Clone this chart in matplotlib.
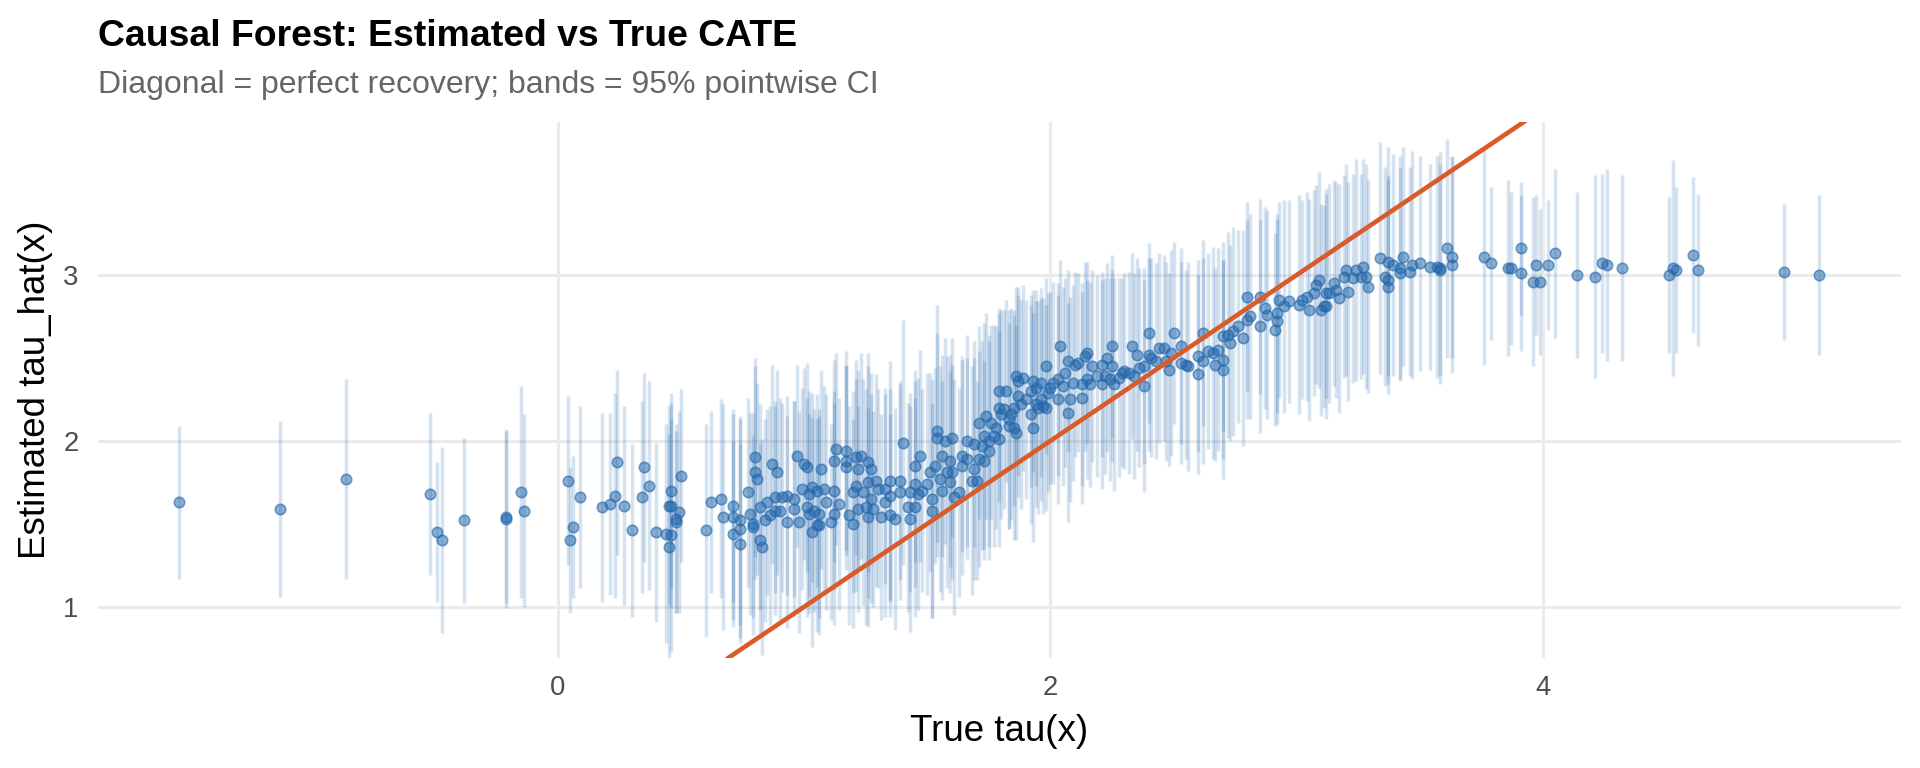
import matplotlib
matplotlib.use("Agg")
import matplotlib.pyplot as plt
import numpy as np

plt.rcParams["font.family"] = ["Liberation Sans", "DejaVu Sans"]

# --- data, split by region of true tau(x) ---

# left tail (tau < 0.1)
true_a = [-1.54, -1.13, -0.86, -0.52, -0.49, -0.47, -0.38, -0.21, -0.21, -0.15,
          -0.14, 0.04, 0.05, 0.06, 0.09]
est_a = [1.63, 1.59, 1.77, 1.68, 1.45, 1.40, 1.52, 1.53, 1.54, 1.69,
         1.58, 1.76, 1.40, 1.48, 1.66]
ci_a = [0.46, 0.53, 0.60, 0.49, 0.42, 0.56, 0.50, 0.54, 0.52, 0.64,
        0.58, 0.51, 0.44, 0.43, 0.55]

# low region (0.1 - 1.22)
true_b = [0.18, 0.21, 0.23, 0.24, 0.27, 0.30, 0.34, 0.35, 0.37, 0.40,
          0.44, 0.45, 0.46, 0.46, 0.46, 0.45, 0.48, 0.49, 0.48, 0.50,
          0.60, 0.62, 0.66, 0.67, 0.71, 0.71, 0.71, 0.74, 0.74, 0.74,
          0.77, 0.78, 0.79, 0.79, 0.80, 0.80, 0.81, 0.82, 0.82, 0.83,
          0.84, 0.85, 0.86, 0.87, 0.88, 0.88, 0.89, 0.90, 0.91, 0.93,
          0.93, 0.96, 0.96, 0.97, 0.98, 0.99, 1.00, 1.01, 1.01, 1.02,
          1.02, 1.03, 1.03, 1.04, 1.05, 1.05, 1.06, 1.06, 1.07, 1.08,
          1.09, 1.11, 1.12, 1.12, 1.12, 1.13, 1.14, 1.17, 1.17, 1.17,
          1.18, 1.20, 1.20, 1.21, 1.21, 1.22, 1.22]
est_b = [1.60, 1.62, 1.67, 1.87, 1.61, 1.46, 1.66, 1.84, 1.73, 1.45,
         1.44, 1.61, 1.43, 1.70, 1.61, 1.36, 1.53, 1.57, 1.51, 1.79,
         1.46, 1.63, 1.65, 1.54, 1.61, 1.54, 1.44, 1.47, 1.38, 1.52,
         1.69, 1.56, 1.50, 1.48, 1.90, 1.81, 1.77, 1.60, 1.40, 1.36,
         1.52, 1.63, 1.55, 1.86, 1.58, 1.66, 1.81, 1.58, 1.66, 1.51,
         1.67, 1.59, 1.65, 1.91, 1.51, 1.71, 1.86, 1.84, 1.60, 1.56,
         1.68, 1.72, 1.45, 1.58, 1.49, 1.70, 1.56, 1.49, 1.83, 1.71,
         1.63, 1.51, 1.88, 1.56, 1.70, 1.95, 1.62, 1.84, 1.88, 1.94,
         1.55, 1.50, 1.69, 1.90, 1.73, 1.59, 1.83]
ci_b = [0.57, 0.55, 0.62, 0.56, 0.60, 0.52, 0.58, 0.57, 0.63, 0.54,
        0.66, 0.60, 0.70, 0.59, 0.62, 0.68, 0.57, 0.61, 0.55, 0.52,
        0.64, 0.55, 0.60, 0.68, 0.58, 0.62, 0.56, 0.66, 0.60, 0.63,
        0.57, 0.61, 0.67, 0.55, 0.60, 0.64, 0.58, 0.62, 0.59, 0.65,
        0.61, 0.56, 0.66, 0.60, 0.63, 0.58, 0.62, 0.68, 0.57, 0.64,
        0.60, 0.65, 0.59, 0.55, 0.67, 0.61, 0.58, 0.63, 0.66, 0.60,
        0.62, 0.57, 0.69, 0.61, 0.64, 0.58, 0.63, 0.66, 0.60, 0.62,
        0.65, 0.59, 0.61, 0.67, 0.60, 0.58, 0.64, 0.62, 0.57, 0.60,
        0.66, 0.63, 0.61, 0.59, 0.64, 0.62, 0.60]

# dense middle (1.22 - 2.45)
true_c = [1.23, 1.26, 1.27, 1.26, 1.29, 1.30, 1.24, 1.27, 1.25, 1.28,
          1.26, 1.31, 1.33, 1.33, 1.35, 1.35, 1.35, 1.37, 1.39, 1.39,
          1.40, 1.42, 1.43, 1.43, 1.45, 1.45, 1.45, 1.46, 1.47, 1.48,
          1.50, 1.51, 1.52, 1.52, 1.53, 1.54, 1.54, 1.55, 1.56, 1.56,
          1.57, 1.58, 1.59, 1.59, 1.60, 1.60, 1.61, 1.63, 1.64, 1.64,
          1.66, 1.66, 1.68, 1.69, 1.69, 1.70, 1.71, 1.71, 1.72, 1.73,
          1.73, 1.74, 1.75, 1.75, 1.76, 1.77, 1.78, 1.79, 1.79, 1.79,
          1.80, 1.81, 1.82, 1.83, 1.83, 1.84, 1.85, 1.85, 1.86, 1.86,
          1.87, 1.87, 1.88, 1.89, 1.90, 1.92, 1.92, 1.93, 1.93, 1.94,
          1.94, 1.95, 1.96, 1.96, 1.97, 1.98, 1.98, 1.99, 2.00, 2.01,
          2.03, 2.03, 2.04, 2.05, 2.06, 2.07, 2.07, 2.08, 2.09, 2.10,
          2.11, 2.13, 2.13, 2.14, 2.15, 2.15, 2.16, 2.17, 2.19, 2.21,
          2.21, 2.22, 2.23, 2.24, 2.25, 2.25, 2.26, 2.28, 2.29, 2.30,
          2.32, 2.33, 2.34, 2.35, 2.36, 2.38, 2.38, 2.40, 2.40, 2.41,
          2.43, 2.44]
est_c = [1.91, 1.87, 1.83, 1.75, 1.76, 1.71, 1.69, 1.65, 1.60, 1.59,
         1.54, 1.54, 1.63, 1.71, 1.67, 1.76, 1.55, 1.53, 1.76, 1.69,
         1.99, 1.60, 1.53, 1.69, 1.60, 1.74, 1.85, 1.68, 1.91, 1.70,
         1.74, 1.81, 1.65, 1.58, 1.85, 2.06, 2.02, 1.77, 1.91, 1.70,
         2.00, 1.81, 1.88, 1.75, 2.02, 1.81, 1.66, 1.69, 1.91, 1.85,
         2.00, 1.89, 1.76, 1.98, 1.83, 1.76, 2.11, 1.89, 1.97, 2.03,
         1.88, 2.15, 1.94, 2.00, 2.11, 2.03, 2.08, 2.01, 2.20, 2.30,
         2.16, 2.19, 2.30, 2.13, 2.09, 2.16, 2.08, 2.20, 2.05, 2.39,
         2.36, 2.27, 2.22, 2.38, 2.25, 2.30, 2.16, 2.36, 2.08, 2.22,
         2.32, 2.20, 2.25, 2.35, 2.21, 2.45, 2.20, 2.29, 2.32, 2.35,
         2.25, 2.37, 2.57, 2.33, 2.41, 2.17, 2.48, 2.25, 2.35, 2.46,
         2.47, 2.34, 2.26, 2.51, 2.37, 2.53, 2.34, 2.45, 2.39, 2.46,
         2.34, 2.39, 2.50, 2.37, 2.57, 2.45, 2.34, 2.38, 2.41, 2.42,
         2.41, 2.57, 2.39, 2.52, 2.44, 2.33, 2.45, 2.65, 2.52, 2.50,
         2.48, 2.56]
ci_c = [0.62, 0.66, 0.58, 0.70, 0.64, 0.60, 0.68, 0.63, 0.71, 0.59,
        0.66, 0.62, 0.69, 0.57, 0.64, 0.72, 0.61, 0.67, 0.60, 0.65,
        0.74, 0.63, 0.68, 0.60, 0.66, 0.62, 0.58, 0.70, 0.64, 0.61,
        0.67, 0.60, 0.72, 0.65, 0.59, 0.76, 0.63, 0.68, 0.61, 0.66,
        0.62, 0.70, 0.64, 0.67, 0.60, 0.65, 0.71, 0.63, 0.58, 0.66,
        0.64, 0.61, 0.69, 0.62, 0.67, 0.60, 0.58, 0.65, 0.63, 0.68,
        0.60, 0.62, 0.66, 0.64, 0.59, 0.67, 0.61, 0.65, 0.57, 0.50,
        0.63, 0.60, 0.55, 0.66, 0.62, 0.64, 0.68, 0.59, 0.65, 0.54,
        0.57, 0.61, 0.63, 0.56, 0.60, 0.58, 0.66, 0.55, 0.69, 0.62,
        0.59, 0.64, 0.61, 0.57, 0.65, 0.53, 0.62, 0.60, 0.58, 0.61,
        0.63, 0.58, 0.52, 0.60, 0.57, 0.66, 0.55, 0.62, 0.59, 0.56,
        0.54, 0.61, 0.64, 0.57, 0.60, 0.55, 0.62, 0.58, 0.61, 0.56,
        0.63, 0.59, 0.57, 0.61, 0.55, 0.58, 0.64, 0.60, 0.57, 0.59,
        0.61, 0.56, 0.62, 0.58, 0.60, 0.64, 0.59, 0.54, 0.58, 0.60,
        0.59, 0.57]

# upper region (2.45 - 3.65)
true_d = [2.46, 2.47, 2.48, 2.49, 2.50, 2.53, 2.53, 2.55, 2.56, 2.60,
          2.60, 2.62, 2.62, 2.64, 2.66, 2.67, 2.68, 2.70, 2.70, 2.70,
          2.72, 2.73, 2.74, 2.76, 2.78, 2.80, 2.80, 2.81, 2.85, 2.85,
          2.87, 2.88, 2.91, 2.92, 2.92, 2.93, 2.95, 2.97, 3.01, 3.02,
          3.04, 3.05, 3.07, 3.08, 3.09, 3.10, 3.11, 3.12, 3.12, 3.13,
          3.15, 3.16, 3.17, 3.19, 3.20, 3.21, 3.23, 3.24, 3.26, 3.27,
          3.28, 3.29, 3.34, 3.36, 3.37, 3.37, 3.37, 3.39, 3.42, 3.42,
          3.43, 3.46, 3.47, 3.50, 3.54, 3.57, 3.58, 3.58, 3.61, 3.63,
          3.63]
est_d = [2.56, 2.48, 2.43, 2.53, 2.65, 2.57, 2.47, 2.46, 2.45, 2.51,
         2.40, 2.48, 2.65, 2.54, 2.53, 2.46, 2.55, 2.43, 2.63, 2.49,
         2.64, 2.59, 2.66, 2.69, 2.62, 2.73, 2.87, 2.75, 2.87, 2.69,
         2.80, 2.76, 2.67, 2.77, 2.72, 2.85, 2.81, 2.84, 2.82, 2.85,
         2.87, 2.79, 2.89, 2.94, 2.97, 2.79, 2.81, 2.81, 2.89, 2.89,
         2.95, 2.91, 2.86, 2.99, 3.03, 2.90, 2.98, 3.03, 2.99, 3.05,
         2.99, 2.93, 3.10, 2.99, 2.97, 3.08, 2.93, 3.06, 3.01, 3.04,
         3.11, 3.02, 3.06, 3.07, 3.05, 3.05, 3.03, 3.04, 3.16, 3.11,
         3.06]
ci_d = [0.56, 0.60, 0.58, 0.62, 0.55, 0.59, 0.61, 0.57, 0.63, 0.58,
        0.60, 0.62, 0.56, 0.59, 0.64, 0.58, 0.61, 0.66, 0.57, 0.60,
        0.62, 0.59, 0.63, 0.58, 0.65, 0.60, 0.57, 0.62, 0.59, 0.64,
        0.61, 0.63, 0.58, 0.60, 0.62, 0.59, 0.64, 0.61, 0.66, 0.60,
        0.63, 0.67, 0.62, 0.60, 0.65, 0.64, 0.61, 0.68, 0.63, 0.66,
        0.62, 0.65, 0.69, 0.61, 0.64, 0.66, 0.63, 0.67, 0.62, 0.65,
        0.68, 0.64, 0.70, 0.66, 0.63, 0.69, 0.65, 0.67, 0.64, 0.68,
        0.66, 0.63, 0.69, 0.65, 0.62, 0.67, 0.64, 0.70, 0.66, 0.61,
        0.65]

# right tail (tau > 3.7)
true_e = [3.76, 3.79, 3.86, 3.87, 3.91, 3.91, 3.96, 3.97, 3.99, 4.02,
          4.05, 4.14, 4.21, 4.24, 4.26, 4.32, 4.51, 4.53, 4.54, 4.61,
          4.63, 4.98, 5.12]
est_e = [3.11, 3.07, 3.04, 3.04, 3.16, 3.01, 2.96, 3.06, 2.96, 3.06,
         3.13, 3.00, 2.99, 3.07, 3.06, 3.04, 3.00, 3.04, 3.03, 3.12,
         3.03, 3.02, 3.00]
ci_e = [0.65, 0.46, 0.53, 0.46, 0.40, 0.47, 0.51, 0.42, 0.44, 0.39,
        0.51, 0.50, 0.61, 0.54, 0.58, 0.56, 0.47, 0.65, 0.50, 0.47,
        0.46, 0.41, 0.48]

X_TICKS = [0, 2, 4]
Y_TICKS = [1, 2, 3]

BLUE = "#2166AC"
ORANGE = "#DA5B2A"
GRID = "#EBEBEB"

tau_true = np.array(true_a + true_b + true_c + true_d + true_e)
tau_hat = np.array(est_a + est_b + est_c + est_d + est_e)
ci_half = np.array(ci_a + ci_b + ci_c + ci_d + ci_e)

W, H = 1920, 768
fig = plt.figure(figsize=(W / 100, H / 100), dpi=100)
ax = fig.add_axes([98 / W, 1 - 658 / H, (1901 - 98) / W, (658 - 122) / H])

# 95% pointwise intervals
ax.vlines(tau_true, tau_hat - ci_half, tau_hat + ci_half,
          color=BLUE, alpha=0.19, linewidth=2.5, zorder=2)
ax.scatter(tau_true, tau_hat, s=56, facecolor=(0.13, 0.40, 0.67, 0.5),
           edgecolor=(0.13, 0.40, 0.67, 0.6), linewidth=1.2, zorder=3)
# perfect recovery diagonal
ax.axline((0, 0), slope=1, color=ORANGE, linewidth=3.3, zorder=4)

ax.set_xlim(-1.868, 5.454)
ax.set_ylim(0.691, 3.922)
ax.set_xticks(X_TICKS)
ax.set_yticks(Y_TICKS)
ax.grid(True, color=GRID, linewidth=2.2)
ax.set_axisbelow(True)
for s in ax.spines.values():
    s.set_visible(False)
ax.tick_params(length=0, labelsize=19.8, labelcolor="#4D4D4D")
ax.tick_params(axis="x", pad=12)
ax.tick_params(axis="y", pad=14)

fig.text(98 / W, 1 - 45.7 / H, "Causal Forest: Estimated vs True CATE",
         fontsize=26.9, fontweight="bold", color="black", va="baseline", ha="left")
fig.text(98 / W, 1 - 93.3 / H, "Diagonal = perfect recovery; bands = 95% pointwise CI",
         fontsize=23, color="#666666", va="baseline", ha="left")
fig.text(999.5 / W, 1 - 740.7 / H, "True tau(x)", fontsize=26.5,
         color="black", va="baseline", ha="center")
fig.text(36 / W, 1 - 390 / H, "Estimated tau_hat(x)", fontsize=26.5,
         color="black", va="center", ha="center", rotation=90)

fig.savefig("out.png", dpi=100)
